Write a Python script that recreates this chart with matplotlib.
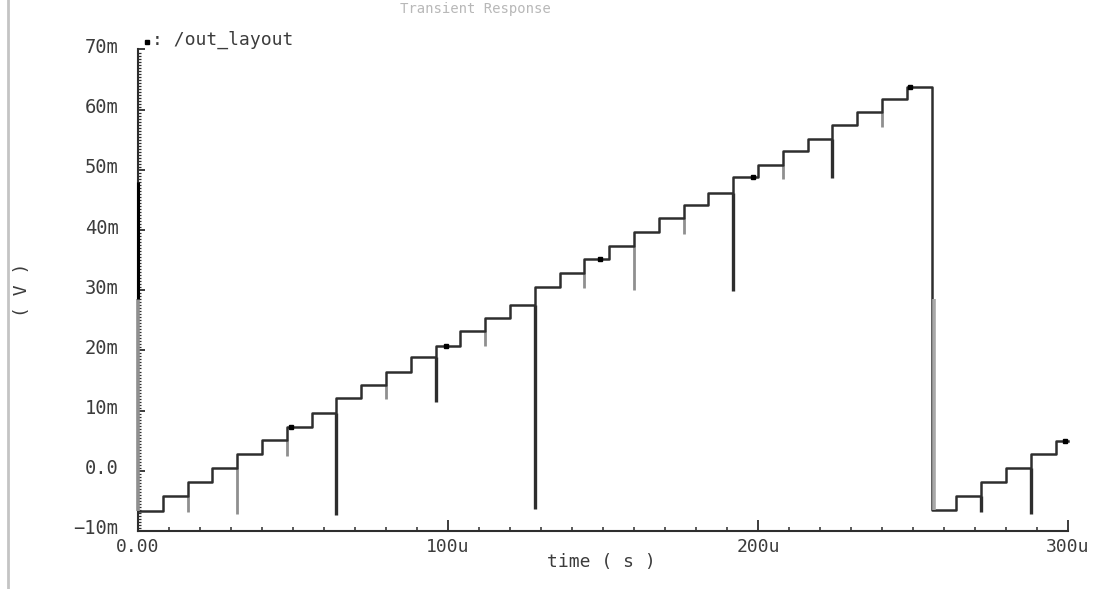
import matplotlib
matplotlib.use("Agg")
import matplotlib.pyplot as plt
from matplotlib.ticker import MultipleLocator, FixedLocator
from matplotlib.transforms import ScaledTranslation
from matplotlib.lines import Line2D

# ---------------- data (time in us, voltage in mV) ----------------
step_start_us = [0, 8, 16, 24, 32, 40, 48, 56, 64, 72, 80, 88, 96, 104, 112, 120,
                 128, 136, 144, 152, 160, 168, 176, 184, 192, 200, 208, 216, 224, 232,
                 240, 248, 256, 264, 272, 280, 288, 296]
step_level_mV = [-6.72, -4.23, -1.91, 0.41, 2.74, 5.06, 7.21, 9.54, 12.02, 14.34,
                 16.50, 18.99, 20.81, 23.30, 25.46, 27.61, 30.60, 32.92, 35.24, 37.40,
                 39.72, 42.04, 44.20, 46.19, 48.84, 50.83, 53.15, 55.14, 57.46, 59.62,
                 61.77, 63.76, -6.55, -4.23, -1.91, 0.41, 2.74, 4.89]
end_time_us = 300

glitch_t_us = [16, 32, 48, 64, 80, 96, 112, 128, 144, 160, 176, 192, 208, 224, 240, 272, 288]
glitch_bottom_mV = [-6.88, -7.21, 2.40, -7.38, 11.86, 11.36, 20.81, -6.38, 30.43,
                    30.10, 39.39, 29.93, 48.51, 48.67, 57.13, -6.88, -7.21]
glitch_dark = [False, False, False, True, False, True, False, True, False,
               False, False, True, False, True, False, True, True]

init_spike_mV = 48.0
reset_gray_top_mV = 28.5

marker_t_us = [49.5, 99.5, 149, 198.5, 249, 299]
marker_v_mV = [7.21, 20.81, 35.24, 48.84, 63.76, 4.89]

x_ticks = [0, 100, 200, 300]
x_tick_labels = ["0.00", "100u", "200u", "300u"]
y_ticks = [-10, 0, 10, 20, 30, 40, 50, 60, 70]
y_tick_labels = ["\u221210m", "0.0", "10m", "20m", "30m", "40m", "50m", "60m", "70m"]

trace_name = ": /out_layout"
title_text = "Transient Response"
x_label = "time ( s )"
y_label = "( V )"

# ---------------- figure ----------------
W, H = 1108, 589
fig = plt.figure(figsize=(W / 100, H / 100), dpi=100)
fig.patch.set_facecolor("white")
L, R, T, B = 138, 1068, 49.5, 531
ax = fig.add_axes([L / W, 1 - B / H, (R - L) / W, (B - T) / H])
ax.set_xlim(0, 300)
ax.set_ylim(-10, 70)

FONT = "DejaVu Sans Mono"
TXT = "#3c3c3c"
DARK = "#2e2e2e"
GRAY = "#8f8f8f"

# main staircase trace
xs = list(step_start_us) + [end_time_us]
ys = list(step_level_mV) + [step_level_mV[-1]]
ax.step(xs, ys, where="post", color=DARK, lw=1.8, zorder=3, clip_on=False)

# initial spike at t=0
ax.vlines(0, step_level_mV[0], reset_gray_top_mV, color=GRAY, lw=2.6, zorder=4, clip_on=False)
ax.vlines(0, reset_gray_top_mV, init_spike_mV, color="black", lw=2.2, zorder=4, clip_on=False)

# reset at 256us - lower part lighter
ax.vlines(step_start_us[32] + 0.9, step_level_mV[32], reset_gray_top_mV,
          color="#a8a8a8", lw=2.6, zorder=4)

# glitches
for t, bot, dk in zip(glitch_t_us, glitch_bottom_mV, glitch_dark):
    i = step_start_us.index(t)
    top = step_level_mV[i - 1]
    ax.vlines(t, bot, top, color=DARK if dk else GRAY, lw=2.4 if dk else 2.0, zorder=2)

# markers
ax.plot(marker_t_us, marker_v_mV, ls="none", marker="s", ms=3.2, color="black", zorder=5,
        clip_on=False)

# axes styling
for s in ["top", "right"]:
    ax.spines[s].set_visible(False)
for s in ["left", "bottom"]:
    ax.spines[s].set_color(DARK)
    ax.spines[s].set_linewidth(1.5)

ax.xaxis.set_major_locator(FixedLocator(x_ticks))
ax.set_xticklabels(x_tick_labels)
ax.xaxis.set_minor_locator(MultipleLocator(10))
ax.yaxis.set_major_locator(FixedLocator(y_ticks))
ax.set_yticklabels(y_tick_labels)
ax.yaxis.set_minor_locator(MultipleLocator(0.5))

ax.tick_params(axis="x", which="major", direction="in", length=8, width=1.3, color=DARK,
               pad=5, labelsize=13, labelcolor=TXT)
ax.tick_params(axis="x", which="minor", direction="in", length=3, width=1.1, color=DARK)
ax.tick_params(axis="y", which="major", direction="in", length=5, width=1.3, color=DARK,
               pad=14, labelsize=13.5, labelcolor=TXT)
ax.tick_params(axis="y", which="minor", direction="in", length=2, width=0.9, color=DARK)
for lab in ax.get_xticklabels() + ax.get_yticklabels():
    lab.set_fontfamily(FONT)
for lab in ax.get_yticklabels():
    lab.set_transform(lab.get_transform() + ScaledTranslation(0, 4 / 100, fig.dpi_scale_trans))

# axis labels
fig.text(601 / W, 1 - 562 / H, x_label, ha="center", va="center", fontsize=13,
         family=FONT, color=TXT)
fig.text(22 / W, 1 - 290 / H, y_label, ha="center", va="center", fontsize=13,
         family=FONT, color=TXT, rotation=90)

# legend
fig.add_artist(Line2D([147 / W], [1 - 42 / H], ls="none", marker="s", ms=3.2,
                      color="black"))
fig.text(152 / W, 1 - 40 / H, trace_name, ha="left", va="center", fontsize=13,
         family=FONT, color=TXT)

# faint title at top
fig.text(400 / W, 1 - 2 / H, title_text, ha="left", va="top", fontsize=10,
         family=FONT, color="#b8b8b8")

# window border line at left
fig.add_artist(Line2D([8 / W, 8 / W], [0, 1], color="#c4c4c4", lw=2))

fig.savefig("out.png", dpi=100)
